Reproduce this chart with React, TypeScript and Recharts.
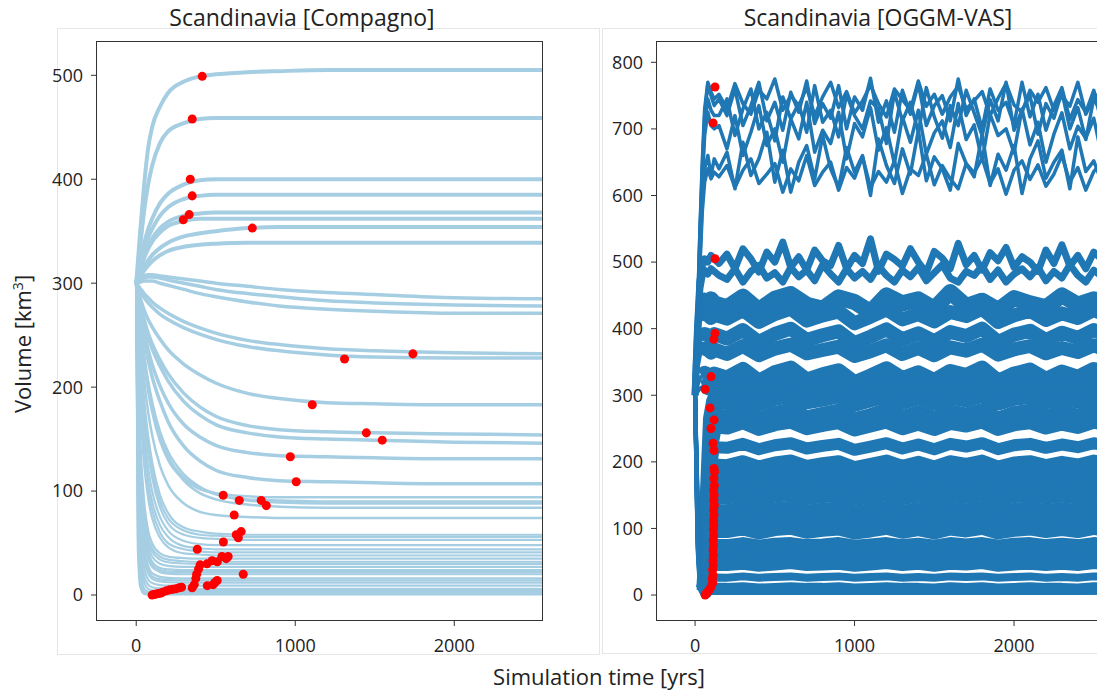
import { ComposedChart, Line, Scatter, XAxis, YAxis } from 'recharts';

// ---------- Compagno panel (left) ----------
const COMPAGNO_T = [0, 10, 25, 50, 75, 100, 150, 200, 300, 400, 500, 700, 900, 1200, 1500, 2000, 2560];

// glaciers that grow from the 300 km3 start
const COMPAGNO_GROWING = [
  [300, 320, 350, 395, 430, 450, 470, 483, 494, 499, 501, 503, 504, 505, 505, 505, 505],
  [300, 312, 335, 370, 395, 413, 435, 446, 454, 458, 459, 459, 459, 459, 459, 459, 459],
  [300, 308, 320, 338, 352, 362, 377, 386, 395, 399, 400, 400, 400, 400, 400, 400, 400],
  [300, 306, 316, 332, 344, 352, 365, 373, 381, 384, 385, 385, 385, 385, 385, 385, 385],
  [300, 305, 313, 326, 336, 343, 353, 359, 365, 367, 368, 368, 368, 368, 368, 368, 368],
  [300, 304, 312, 324, 333, 340, 349, 355, 360, 362, 362, 362, 362, 362, 362, 362, 362],
  [300, 303, 308, 316, 322, 327, 334, 339, 345, 348, 350, 353, 354, 354, 354, 354, 354],
  [300, 302, 306, 312, 317, 321, 327, 331, 335, 337, 338, 339, 339, 339, 339, 339, 339],
];

// slowly shrinking glaciers
const COMPAGNO_SLOW = [
  [300, 302, 305, 307, 308, 308, 307, 306, 304, 302, 300, 297, 294, 291, 289, 286, 285],
  [300, 301, 303, 305, 306, 306, 305, 303, 300, 297, 294, 290, 287, 283, 281, 279, 278],
  [300, 300, 301, 302, 302, 302, 300, 298, 294, 290, 287, 282, 278, 275, 273, 271, 271],
  [300, 298, 295, 290, 286, 282, 276, 271, 263, 257, 252, 245, 241, 237, 235, 233, 232],
  [300, 297, 292, 286, 281, 277, 270, 265, 257, 251, 246, 239, 235, 231, 229, 228, 228],
  [300, 294, 286, 274, 265, 258, 246, 236, 222, 212, 204, 194, 189, 185, 184, 183, 183],
  [300, 292, 281, 265, 252, 242, 226, 213, 194, 181, 172, 163, 159, 157, 156, 155, 154],
  [300, 291, 279, 262, 248, 237, 220, 206, 186, 173, 164, 156, 152, 150, 149, 147, 146],
  [300, 289, 274, 253, 236, 222, 201, 185, 164, 152, 144, 137, 134, 133, 132, 131, 131],
  [300, 287, 270, 246, 226, 210, 186, 167, 143, 129, 120, 113, 110, 109, 108, 107, 107],
];

const COMPAGNO_MEDIUM = [
  [300, 280, 255, 222, 196, 176, 148, 130, 111, 102, 98, 95, 94, 94, 94, 94, 94],
  [300, 282, 258, 226, 200, 180, 152, 133, 113, 103, 97, 92, 91, 90, 90, 90, 90],
  [300, 284, 262, 231, 206, 186, 157, 138, 116, 104, 97, 91, 89, 88, 88, 88, 88],
  [300, 283, 260, 228, 203, 183, 153, 133, 110, 98, 92, 87, 85, 84, 84, 84, 84],
  [300, 276, 246, 206, 176, 154, 124, 106, 88, 80, 77, 75, 74, 74, 74, 74, 74],
];

const COMPAGNO_FAST = [
  [300, 272, 235, 188, 153, 128, 96, 79, 65, 61, 59, 58, 58, 58, 58, 58, 58],
  [300, 268, 228, 180, 145, 120, 90, 74, 62, 58, 57, 56, 56, 56, 56, 56, 56],
  [300, 265, 222, 172, 137, 113, 84, 69, 58, 55, 54, 53, 53, 53, 53, 53, 53],
  [300, 258, 210, 158, 122, 100, 75, 62, 52, 49, 48, 48, 48, 48, 48, 48, 48],
  [300, 252, 200, 146, 110, 90, 67, 56, 47, 45, 44, 44, 44, 44, 44, 44, 44],
  [300, 245, 190, 135, 102, 82, 60, 50, 44, 42, 41, 41, 41, 41, 41, 41, 41],
  [300, 240, 180, 125, 93, 74, 55, 46, 40, 39, 38, 38, 38, 38, 38, 38, 38],
  [300, 220, 150, 90, 62, 50, 40, 37, 35.5, 35, 35, 35, 35, 35, 35, 35, 35],
  [300, 210, 140, 82, 56, 45, 37, 34, 32.5, 32, 32, 32, 32, 32, 32, 32, 32],
  [300, 205, 135, 78, 53, 42, 34, 31.5, 30.3, 30, 30, 30, 30, 30, 30, 30, 30],
  [300, 200, 128, 72, 48, 37, 30, 28, 27, 27, 27, 27, 27, 27, 27, 27, 27],
  [300, 190, 118, 64, 42, 32, 26, 24.7, 24, 24, 24, 24, 24, 24, 24, 24, 24],
  [300, 185, 110, 58, 38, 29, 24, 22.5, 22, 22, 22, 22, 22, 22, 22, 22, 22],
  [300, 180, 105, 55, 35, 27, 22, 20.5, 20, 20, 20, 20, 20, 20, 20, 20, 20],
  [300, 170, 95, 46, 28, 21, 17.5, 16.5, 16, 16, 16, 16, 16, 16, 16, 16, 16],
  [300, 162, 88, 41, 24, 18, 15, 14.3, 14, 14, 14, 14, 14, 14, 14, 14, 14],
  [300, 155, 80, 36, 21, 15.5, 13, 12.3, 12, 12, 12, 12, 12, 12, 12, 12, 12],
  [300, 140, 65, 27, 15, 11.5, 9.5, 9, 9, 9, 9, 9, 9, 9, 9, 9, 9],
  [300, 120, 50, 18, 10, 7.5, 6.3, 6, 6, 6, 6, 6, 6, 6, 6, 6, 6],
  [300, 100, 38, 12, 6, 4.6, 4.1, 4, 4, 4, 4, 4, 4, 4, 4, 4, 4],
  [300, 80, 25, 6, 3, 2.3, 2, 2, 2, 2, 2, 2, 2, 2, 2, 2, 2],
  [300, 60, 15, 3, 1.5, 1, 1, 1, 1, 1, 1, 1, 1, 1, 1, 1, 1],
  [300, 45, 8, 1, 0.5, 0.5, 0.5, 0.5, 0.5, 0.5, 0.5, 0.5, 0.5, 0.5, 0.5, 0.5, 0.5],
];

// [time, volume] of the equilibrium markers
const COMPAGNO_DOTS = [
  [415, 499], [352, 458], [340, 400], [352, 384], [333, 366], [296, 361], [730, 353],
  [1740, 232], [1310, 227], [1107, 183], [1447, 156], [1547, 149], [969, 133], [1006, 109],
  [547, 96], [648, 91], [786, 91], [818, 86], [616, 77], [660, 61], [629, 58], [642, 55],
  [548, 51], [384, 44], [673, 20], [578, 37], [539, 37], [566, 35], [477, 33], [510, 32],
  [445, 30], [402, 29], [392, 25], [380, 20], [375, 16], [365, 10], [352, 7], [447, 9],
  [484, 10], [509, 14], [495, 12], [100, 0], [112, 0.5], [125, 1], [140, 1.5], [155, 2],
  [170, 3], [190, 4], [210, 5], [230, 5.5], [250, 6], [270, 7], [285, 7.5],
];

// ---------- OGGM-VAS panel (right) ----------
const OGGM_T_FINE = [
  0, 15, 30, 45, 60, 80, 100, 120,
  150, 200, 250, 300, 350, 400, 450, 500, 550, 600, 650, 700, 750, 800, 850, 900, 950, 1000,
  1050, 1100, 1150, 1200, 1250, 1300, 1350, 1400, 1450, 1500, 1550, 1600, 1650, 1700, 1750,
  1800, 1850, 1900, 1950, 2000, 2050, 2100, 2150, 2200, 2250, 2300, 2350, 2400, 2450, 2500,
  2550, 2600,
];

// the large glaciers (600-780 km3)
const OGGM_TOP = [
  [300, 425, 545, 650, 730, 770, 755, 745,
    752, 730, 768, 738, 722, 758, 745, 775, 728, 750, 735, 762, 720, 748, 770, 732, 756, 724, 742, 766,
    738, 718, 760, 744, 728, 772, 734, 752, 722, 748, 764, 730, 742, 756, 720, 746, 768, 736, 725, 758,
    740, 762, 728, 750, 734, 770, 722, 745, 758, 736],
  [300, 420, 540, 640, 720, 768, 750, 735,
    745, 720, 760, 705, 735, 770, 712, 740, 698, 755, 725, 772, 708, 738, 716, 765, 700, 748, 728, 776,
    710, 742, 695, 758, 722, 768, 705, 735, 750, 712, 775, 720, 745, 700, 760, 728, 740, 706, 770, 718,
    752, 698, 735, 762, 714, 744, 725, 758, 708, 740],
  [300, 415, 530, 630, 705, 745, 728, 720,
    720, 745, 690, 730, 760, 700, 725, 682, 748, 715, 738, 695, 765, 710, 728, 688, 752, 720, 700, 742,
    730, 678, 755, 712, 740, 695, 762, 718, 686, 735, 705, 758, 724, 690, 744, 712, 770, 698, 728, 750,
    692, 738, 716, 756, 700, 732, 684, 746, 722, 710],
  [300, 410, 520, 620, 690, 725, 705, 700,
    705, 670, 720, 660, 695, 735, 675, 700, 650, 715, 685, 740, 665, 698, 678, 725, 655, 708, 688, 732,
    668, 702, 648, 718, 680, 728, 662, 694, 712, 672, 738, 684, 706, 652, 722, 690, 700, 664, 730, 676,
    710, 650, 692, 724, 670, 704, 686, 716, 660, 698],
  [300, 400, 500, 590, 640, 660, 630, 655,
    640, 665, 610, 680, 630, 655, 695, 620, 668, 605, 650, 675, 625, 690, 640, 612, 672, 635, 660, 600,
    685, 645, 618, 670, 632, 698, 622, 658, 640, 608, 678, 648, 628, 692, 615, 662, 638, 675, 603, 655,
    682, 626, 650, 668, 610, 688, 636, 652, 620, 664],
  [300, 395, 490, 575, 620, 640, 625, 635,
    628, 645, 612, 638, 655, 618, 632, 648, 605, 640, 622, 660, 615, 635, 650, 608, 642, 626, 658, 612,
    636, 620, 652, 603, 640, 630, 662, 616, 645, 625, 610, 648, 634, 656, 618, 640, 602, 638, 652, 624,
    646, 614, 632, 660, 620, 642, 608, 636, 650, 628],
];

// glaciers around 470-535 km3
const OGGM_MID = [
  [300, 400, 470, 495, 505, 500, 510, 505,
    498, 512, 490, 520, 505, 485, 515, 500, 530, 492, 508, 488, 518, 502, 495, 525, 490, 510, 498, 535,
    486, 512, 504, 494, 520, 500, 484, 516, 506, 490, 528, 496, 510, 488, 514, 502, 522, 492, 508, 500,
    486, 518, 498, 526, 494, 510, 490, 515, 504, 496],
  [300, 390, 460, 480, 488, 482, 490, 486,
    480, 474, 490, 470, 486, 495, 476, 484, 470, 492, 478, 488, 472, 496, 482, 470, 490, 476, 486, 474,
    494, 480, 470, 488, 478, 492, 472, 484, 496, 476, 470, 486, 480, 494, 474, 488, 470, 482, 490, 478,
    492, 472, 486, 476, 496, 480, 470, 488, 478, 484],
];

const OGGM_T_COARSE = [
  0, 15, 30, 45, 60, 80, 100, 120,
  200, 300, 400, 500, 600, 700, 800, 900, 1000, 1100, 1200, 1300, 1400, 1500, 1600, 1700, 1800,
  1900, 2000, 2100, 2200, 2300, 2400, 2500, 2600,
];

const OGGM_UPPER = [
  [300, 380, 425, 438, 442, 440, 444, 438,
    432, 448, 428, 445, 452, 436, 430, 447, 440, 425, 450, 438, 444, 430, 455, 434, 442, 428, 446, 438, 432, 450, 436, 444, 440],
  [300, 370, 410, 418, 422, 420, 416, 421,
    415, 428, 410, 422, 430, 412, 420, 426, 408, 418, 429, 414, 422, 411, 425, 419, 430, 410, 420, 427, 413, 423, 416, 428, 418],
  [300, 350, 380, 388, 392, 390, 386, 392,
    385, 398, 380, 392, 400, 383, 390, 396, 378, 388, 399, 384, 393, 381, 395, 389, 400, 380, 391, 397, 383, 394, 386, 398, 388],
  [300, 340, 360, 366, 370, 368, 364, 369,
    362, 374, 360, 370, 376, 363, 368, 373, 359, 366, 375, 362, 371, 360, 372, 367, 376, 361, 369, 374, 363, 371, 365, 375, 366],
  [300, 315, 325, 329, 332, 330, 327, 331,
    325, 338, 320, 333, 340, 322, 330, 336, 318, 328, 339, 324, 333, 321, 335, 329, 340, 320, 331, 337, 323, 334, 326, 338, 328],
  [300, 305, 310, 312, 313, 311, 309, 313,
    306, 318, 304, 314, 320, 307, 312, 317, 303, 310, 319, 306, 315, 304, 316, 311, 320, 305, 313, 318, 307, 315, 309, 319, 310],
];

const OGGM_LOWER = [
  [300, 160, 30, 8, 12, 150, 265, 292,
    290, 299, 288, 296, 301, 291, 295, 300, 287, 294, 300, 290, 297, 289, 298, 294, 301, 289, 296, 299, 291, 297, 292, 300, 294],
  [300, 150, 28, 7, 12, 140, 245, 270,
    268, 277, 265, 273, 279, 267, 272, 277, 264, 270, 278, 267, 274, 266, 276, 271, 278, 265, 273, 277, 268, 275, 269, 278, 271],
  [300, 145, 26, 6, 11, 130, 230, 255,
    253, 261, 251, 258, 262, 252, 257, 261, 250, 256, 262, 252, 259, 251, 260, 256, 262, 251, 258, 261, 253, 259, 254, 262, 256],
  [300, 140, 24, 6, 10, 115, 200, 222,
    221, 227, 219, 225, 228, 220, 224, 227, 218, 223, 228, 220, 226, 219, 227, 223, 228, 219, 225, 227, 221, 226, 222, 228, 223],
  [300, 135, 22, 5, 10, 100, 178, 196,
    195, 201, 193, 199, 202, 194, 198, 201, 192, 197, 202, 194, 200, 193, 201, 197, 202, 193, 199, 201, 195, 200, 196, 202, 197],
  [300, 130, 21, 5, 9, 92, 165, 181,
    180, 186, 178, 184, 187, 179, 183, 186, 177, 182, 187, 179, 185, 178, 186, 182, 187, 178, 184, 186, 180, 185, 181, 187, 182],
  [300, 125, 20, 5, 9, 84, 148, 163,
    162, 168, 160, 166, 169, 161, 165, 168, 159, 164, 169, 161, 167, 160, 168, 164, 169, 160, 166, 168, 162, 167, 163, 169, 164],
  [300, 120, 19, 5, 8, 76, 135, 148,
    148, 152, 146, 151, 153, 147, 150, 152, 146, 149, 153, 147, 151, 146, 152, 149, 153, 146, 150, 152, 148, 151, 148, 153, 149],
  [300, 115, 18, 4, 8, 65, 115, 126,
    126, 130, 124, 129, 131, 125, 128, 130, 124, 127, 131, 125, 129, 124, 130, 127, 131, 124, 128, 130, 126, 129, 126, 131, 127],
  [300, 110, 17, 4, 7, 58, 103, 113,
    113, 117, 111, 116, 118, 112, 115, 117, 111, 114, 118, 112, 116, 111, 117, 114, 118, 111, 115, 117, 113, 116, 113, 118, 114],
  [300, 105, 16, 4, 7, 50, 88, 96,
    96, 100, 94, 99, 101, 95, 98, 100, 94, 97, 101, 95, 99, 94, 100, 97, 101, 94, 98, 100, 96, 99, 96, 101, 97],
  [300, 100, 15, 4, 6, 38, 65, 72,
    72, 75, 71, 74, 75, 72, 73, 75, 71, 73, 75, 72, 74, 71, 75, 73, 75, 71, 74, 75, 72, 74, 72, 75, 73],
  [300, 95, 14, 3, 6, 30, 51, 56,
    56, 58, 55, 57, 59, 56, 57, 58, 55, 57, 59, 56, 58, 55, 58, 57, 59, 55, 57, 58, 56, 58, 56, 59, 57],
  [300, 90, 13, 3, 5, 24, 41, 45,
    45, 47, 44, 46, 48, 45, 46, 47, 44, 46, 48, 45, 47, 44, 47, 46, 48, 44, 46, 47, 45, 47, 45, 48, 46],
  [300, 85, 12, 3, 5, 15, 24, 26.5,
    26, 28, 26, 27, 28, 26, 27, 28, 26, 27, 28, 26, 27, 26, 28, 27, 28, 26, 27, 28, 26, 27, 26, 28, 27],
  [300, 80, 10, 2, 4, 7, 9, 10,
    10, 11, 9, 10, 11, 10, 10, 11, 9, 10, 11, 10, 10, 9, 11, 10, 11, 9, 10, 11, 10, 10, 9, 11, 10],
  [300, 70, 8, 1, 2, 2.5, 3, 3,
    3, 3.5, 3, 3, 3.5, 3, 3, 3.5, 3, 3, 3.5, 3, 3, 3, 3.5, 3, 3.5, 3, 3, 3.5, 3, 3, 3, 3.5, 3],
];

const OGGM_DOTS = [
  [125, 763], [113, 709], [125, 505], [125, 393], [118, 384], [100, 328], [63, 309], [94, 281],
  [119, 263], [100, 250], [113, 228], [119, 217], [119, 190], [122, 185], [118, 175], [121, 165],
  [117, 158], [120, 150], [118, 142], [121, 135], [117, 128], [119, 120], [116, 112], [118, 105],
  [115, 98], [117, 90], [114, 82], [116, 75], [113, 68], [115, 60], [112, 52], [114, 45],
  [110, 38], [112, 30], [108, 24], [110, 18], [100, 12], [90, 8], [80, 5], [70, 2], [63, 0],
];

// stroke widths (px) of the OGGM lines, same order as the arrays above
const OGGM_UPPER_WIDTHS = [16, 14, 14, 14, 16, 14];
const OGGM_LOWER_WIDTHS = [16, 14, 16, 12, 12, 14, 14, 16, 14, 14, 14, 16, 10, 12, 8, 11, 4];

const toPoints = (times: number[], values: number[]) =>
  values.map((v, i) => ({ t: times[i], v }));
const toDots = (pairs: number[][]) => pairs.map(([t, v]) => ({ t, v }));

const FONT = '"Open Sans", "DejaVu Sans", sans-serif';
const TICK = { fontSize: 18, fill: '#222', fontFamily: FONT };
const LIGHT = '#a6cee3';
const DARK = '#1f77b4';

const compagnoLines = [
  ...COMPAGNO_GROWING.map((s) => ({ s, w: 4 })),
  ...COMPAGNO_SLOW.map((s) => ({ s, w: 3.5 })),
  ...COMPAGNO_MEDIUM.map((s) => ({ s, w: 2.5 })),
  ...COMPAGNO_FAST.map((s) => ({ s, w: 2.2 })),
];

// banded glaciers: a thin line for the whole run, a wide one once the volume has settled
const bandLines = (rows: number[][], widths: number[]) =>
  rows.flatMap((s, i) => {
    const full = toPoints(OGGM_T_COARSE, s);
    return [{ data: full, w: 4 }, { data: full.slice(3), w: widths[i] }];
  });

const oggmLines = [
  ...bandLines(OGGM_LOWER, OGGM_LOWER_WIDTHS),
  ...bandLines(OGGM_UPPER, OGGM_UPPER_WIDTHS),
  ...OGGM_MID.map((s) => ({ data: toPoints(OGGM_T_FINE, s), w: 7 })),
  ...OGGM_TOP.map((s) => ({ data: toPoints(OGGM_T_FINE, s), w: 3.5 })),
];

const abs = (style: React.CSSProperties): React.CSSProperties => ({ position: 'absolute', ...style });

export default function App() {
  return (
    <div style={abs({ left: 0, top: 0, width: 1097, height: 691, overflow: 'hidden', background: '#fff', fontFamily: FONT })}>
      {/* figure backgrounds */}
      <div style={abs({ left: 57, top: 28, width: 543, height: 627, border: '1px solid #e6e6e6', boxSizing: 'border-box' })} />
      <div style={abs({ left: 602, top: 28, width: 520, height: 626, border: '1px solid #e6e6e6', boxSizing: 'border-box' })} />

      <div style={abs({ left: 0, top: 0 })}>
        <ComposedChart width={600} height={691} margin={{ top: 41, right: 57, bottom: 30, left: 0 }}>
          <XAxis type="number" dataKey="t" domain={[-253, 2558]} ticks={[0, 1000, 2000]} interval={0}
            allowDataOverflow axisLine={false} tickLine={{ stroke: '#333' }} tickSize={5} tickMargin={13}
            height={40} tick={TICK} />
          <YAxis type="number" domain={[-25, 533]} ticks={[0, 100, 200, 300, 400, 500]} interval={0}
            allowDataOverflow axisLine={false} tickLine={{ stroke: '#333' }} tickSize={5} tickMargin={8}
            width={96} tick={TICK} />
          {compagnoLines.map((l, i) => (
            <Line key={`c${i}`} data={toPoints(COMPAGNO_T, l.s)} dataKey="v" type="monotone" stroke={LIGHT}
              strokeWidth={l.w} dot={false} activeDot={false} isAnimationActive={false} />
          ))}
          <Scatter data={toDots(COMPAGNO_DOTS)} dataKey="v" fill="#ff0000" isAnimationActive={false} />
        </ComposedChart>
      </div>

      <div style={abs({ left: 600, top: 0 })}>
        <ComposedChart width={520} height={691} margin={{ top: 41, right: 9, bottom: 30, left: 0 }}>
          <XAxis type="number" dataKey="t" domain={[-245, 2608]} ticks={[0, 1000, 2000]} interval={0}
            allowDataOverflow axisLine={false} tickLine={{ stroke: '#333' }} tickSize={5} tickMargin={13}
            height={40} tick={TICK} />
          <YAxis type="number" domain={[-39, 832]} ticks={[0, 100, 200, 300, 400, 500, 600, 700, 800]} interval={0}
            allowDataOverflow axisLine={false} tickLine={{ stroke: '#333' }} tickSize={5} tickMargin={8}
            width={56} tick={TICK} />
          {oggmLines.map((l, i) => (
            <Line key={`o${i}`} data={l.data} dataKey="v" type="linear" stroke={DARK} strokeWidth={l.w}
              strokeLinejoin="round" dot={false} activeDot={false} isAnimationActive={false} />
          ))}
          <Scatter data={toDots(OGGM_DOTS)} dataKey="v" fill="#ff0000" isAnimationActive={false} />
        </ComposedChart>
      </div>

      {/* plot frames */}
      <div style={abs({ left: 96, top: 41, width: 447, height: 580, border: '1.5px solid #333', boxSizing: 'border-box', pointerEvents: 'none' })} />
      <div style={abs({ left: 656, top: 41, width: 455, height: 580, border: '1.5px solid #333', boxSizing: 'border-box', pointerEvents: 'none' })} />

      {/* titles and labels */}
      <div style={abs({ left: 152, top: 1, width: 300, textAlign: 'center', fontSize: 23, color: '#222' })}>Scandinavia [Compagno]</div>
      <div style={abs({ left: 728, top: 1, width: 300, textAlign: 'center', fontSize: 23, color: '#222' })}>Scandinavia [OGGM-VAS]</div>
      <div style={abs({ left: 22, top: 344, fontSize: 22, color: '#222', whiteSpace: 'nowrap', transform: 'translate(-50%, -50%) rotate(-90deg)' })}>
        Volume [km<sup style={{ fontSize: 14 }}>3</sup>]
      </div>
      <div style={abs({ left: 599, top: 676, fontSize: 22, color: '#222', whiteSpace: 'nowrap', transform: 'translate(-50%, -50%)' })}>
        Simulation time [yrs]
      </div>
    </div>
  );
}
